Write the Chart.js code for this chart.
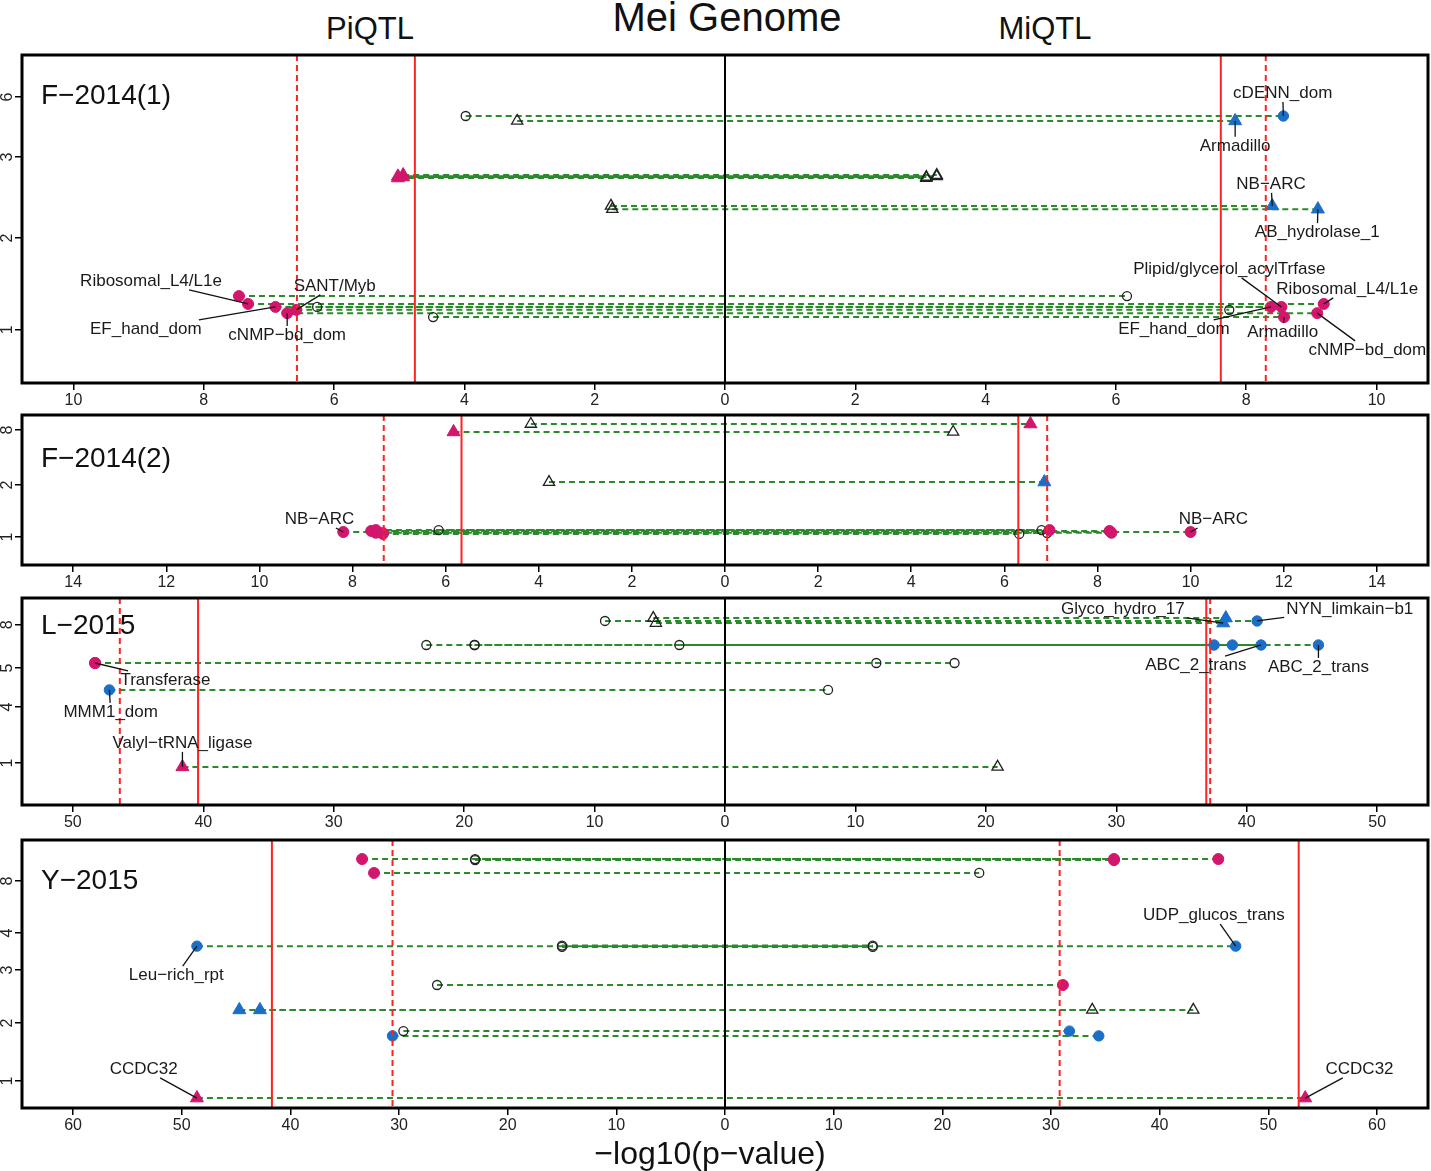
<!DOCTYPE html>
<html lang="en">
<head>
<meta charset="UTF-8">
<title>Mei Genome PiQTL / MiQTL</title>
<script src="https://cdn.jsdelivr.net/npm/chart.js"></script>
<style>
  body { margin: 0; background: #fff; font-family: "Liberation Sans", Arial, sans-serif; }
  #wrap { position: relative; width: 1431px; height: 1171px; }
  #wrap canvas { position: absolute; left: 0; }
  .ttl { position: absolute; transform: translate(-50%, -50%); white-space: nowrap; color: #111; }
</style>
</head>
<body>
<div id="wrap">
  <canvas id="c1"></canvas>
  <canvas id="c2"></canvas>
  <canvas id="c3"></canvas>
  <canvas id="c4"></canvas>
  <div class="ttl" style="left:370px;top:29px;font-size:31px">PiQTL</div>
  <div class="ttl" style="left:727px;top:17px;font-size:40px">Mei Genome</div>
  <div class="ttl" style="left:1045px;top:29px;font-size:31px">MiQTL</div>
  <div class="ttl" style="left:710px;top:1153px;font-size:32px">−log10(p−value)</div>
</div>
<script>
// -log10(p) of each linked pair: Pi = left half, Mi = right half, Row = vertical track
// marks: o open circle, a open triangle, pc/pt pink circle/triangle, bc/bt blue circle/triangle

// F-2014(1)
const f1Pi = [3.98, 3.19, 5.02, 4.94, 5.02, 4.94, 1.75, 1.73, 7.46, 7.32, 6.90, 6.26, 6.58, 6.72, 4.48];
const f1Mi = [8.57, 7.83, 3.09, 3.25, 3.25, 3.09, 8.40, 9.10, 6.17, 9.19, 8.38, 8.54, 7.74, 9.09, 8.58];
const f1Row = [81.4, 79.9, 62.5, 63.4, 63.0, 62.8, 54.0, 53.0, 26.5, 24.1, 23.2, 23.2, 22.3, 21.3, 20.1];
const f1PiMark = ['o','a','pt','pt','pt','pt','a','a','pc','pc','pc','o','pc','pc','o'];
const f1MiMark = ['bc','bt','a','a','a','a','bt','bt','o','pc','pc','pc','o','pc','pc'];
const f1PiThr = [4.76, 6.57];   // solid, dashed
const f1MiThr = [7.61, 8.30];
const f1XTicks = [-10, -8, -6, -4, -2, 0, 2, 4, 6, 8, 10];
const f1YPos = [16.2, 44.2, 68.9, 87.2];
const f1YLab = ['1', '2', '3', '6'];
const f1Labels = [
  ['cDENN_dom', 8.57, 81.4, 8.56, 88.4],
  ['Armadillo', 7.83, 79.9, 7.83, 72.3],
  ['NB−ARC', 8.40, 54.0, 8.38, 60.7],
  ['AB_hydrolase_1', 9.10, 53.0, 9.09, 46.0],
  ['Plipid/glycerol_acylTrfase', 8.54, 23.2, 7.74, 34.8],
  ['Ribosomal_L4/L1e', 9.19, 24.1, 9.55, 28.7],
  ['EF_hand_dom', 8.38, 23.2, 6.89, 16.5],
  ['Armadillo', 8.58, 20.1, 8.56, 15.5],
  ['cNMP−bd_dom', 9.09, 21.3, 9.86, 10.1],
  ['Ribosomal_L4/L1e', -7.32, 24.1, -8.81, 31.1],
  ['SANT/Myb', -6.58, 22.3, -5.99, 29.6],
  ['EF_hand_dom', -6.90, 23.2, -8.89, 16.5],
  ['cNMP−bd_dom', -6.72, 21.3, -6.72, 14.6]
];

// F-2014(2)
const f2Pi = [4.17, 5.83, 3.78, 8.20, 7.60, 7.50, 7.35, 6.15, 7.35, 7.50];
const f2Mi = [6.56, 4.90, 6.86, 10.00, 8.26, 6.97, 6.32, 6.80, 6.92, 8.30];
const f2Row = [94.0, 88.7, 55.3, 22.0, 22.7, 23.3, 20.7, 23.3, 21.3, 21.5];
const f2PiMark = ['a','pt','a','pc','pc','pc','pc','o','pc','pc'];
const f2MiMark = ['pt','a','bt','pc','pc','pc','o','o','o','pc'];
const f2PiThr = [5.66, 7.33];
const f2MiThr = [6.30, 6.92];
const f2XTicks = [-14, -12, -10, -8, -6, -4, -2, 0, 2, 4, 6, 8, 10, 12, 14];
const f2YPos = [18.7, 53.3, 90.0];
const f2YLab = ['1', '2', '8'];
const f2Labels = [
  ['NB−ARC', -8.20, 22.0, -8.71, 30.7],
  ['NB−ARC', 10.00, 22.0, 10.49, 30.7]
];

// L-2015
const l5Pi = [9.2, 5.5, 5.3, 22.9, 19.2, 3.5, 19.2, 48.3, 48.3, 47.2, 41.6];
const l5Mi = [40.8, 38.4, 38.2, 37.5, 38.9, 41.1, 45.5, 17.6, 11.6, 7.9, 20.9];
const l5Row = [88.9, 90.3, 87.9, 77.3, 77.3, 77.3, 77.3, 68.6, 68.6, 55.6, 18.4];
const l5PiMark = ['o','a','a','o','o','o','o','pc','pc','bc','pt'];
const l5MiMark = ['bc','bt','bt','bc','bc','bc','bc','o','o','o','a'];
const l5PiThr = [40.4, 46.4];
const l5MiThr = [36.9, 37.2];
const l5XTicks = [-50, -40, -30, -20, -10, 0, 10, 20, 30, 40, 50];
const l5YPos = [20.3, 47.3, 66.2, 87.0];
const l5YLab = ['1', '4', '5', '8'];
const l5Labels = [
  ['Glyco_hydro_17', 38.2, 87.9, 30.5, 94.7],
  ['NYN_limkain−b1', 40.8, 88.9, 47.9, 94.7],
  ['ABC_2_trans', 41.1, 77.3, 36.1, 67.6],
  ['ABC_2_trans', 45.5, 77.3, 45.5, 66.7],
  ['Transferase', -48.3, 68.6, -42.9, 60.4],
  ['MMM1_dom', -47.2, 55.6, -47.1, 45.0],
  ['Valyl−tRNA_ligase', -41.6, 18.4, -41.6, 30.0]
];

// Y-2015
const y5Pi = [33.4, 23.0, 23.0, 32.3, 48.6, 15.0, 15.0, 26.5, 44.7, 42.8, 29.6, 30.6, 48.6];
const y5Mi = [45.4, 35.8, 35.8, 23.4, 47.0, 13.6, 13.6, 31.1, 43.1, 33.8, 31.7, 34.4, 53.4];
const y5Row = [92.9, 92.9, 92.5, 87.7, 60.4, 60.1, 60.6, 45.9, 36.6, 36.6, 28.7, 26.9, 3.7];
const y5PiMark = ['pc','o','o','pc','bc','o','o','o','bt','bt','o','bc','pt'];
const y5MiMark = ['pc','pc','pc','o','bc','o','o','pc','a','a','bc','bc','pt'];
const y5PiThr = [41.7, 30.6];
const y5MiThr = [52.8, 30.8];
const y5XTicks = [-60, -50, -40, -30, -20, -10, 0, 10, 20, 30, 40, 50, 60];
const y5YPos = [10.1, 31.7, 51.5, 65.3, 84.7];
const y5YLab = ['1', '2', '3', '4', '8'];
const y5Labels = [
  ['Leu−rich_rpt', -48.6, 60.4, -50.5, 49.6],
  ['CCDC32', -48.6, 3.7, -53.5, 14.6],
  ['UDP_glucos_trans', 47.0, 60.4, 45.0, 72.0],
  ['CCDC32', 53.4, 3.7, 58.4, 14.6]
];

const FONT = '"Liberation Sans", Arial, sans-serif';
const GREEN = '#2b8a2b';
const PINK = '#d1166b';
const BLUE = '#1b6fc6';
const RED = '#ff2222';

const markStyle = {
  o:  { pointStyle: 'circle',   radius: 4.5, bg: 'rgba(255,255,255,0)', border: '#222', bw: 1.3, order: 2 },
  a:  { pointStyle: 'triangle', radius: 6.5, bg: 'rgba(255,255,255,0)', border: '#222', bw: 1.3, order: 2 },
  pc: { pointStyle: 'circle',   radius: 5.5, bg: PINK, border: PINK, bw: 1, order: 1 },
  pt: { pointStyle: 'triangle', radius: 7.5, bg: PINK, border: PINK, bw: 1, order: 1 },
  bc: { pointStyle: 'circle',   radius: 5.2, bg: BLUE, border: BLUE, bw: 1, order: 1 },
  bt: { pointStyle: 'triangle', radius: 7.5, bg: BLUE, border: BLUE, bw: 1, order: 1 }
};

function makePanel(id, geom, d) {
  const canvas = document.getElementById(id);
  const axisH = 28;
  canvas.width = 1431;
  canvas.height = geom.bottom - geom.top + 5 + axisH;
  canvas.style.top = (geom.top - 5) + 'px';

  const datasets = [];
  d.pi.forEach((v, i) => {
    datasets.push({
      data: [{ x: -v, y: d.row[i] }, { x: d.mi[i], y: d.row[i] }],
      showLine: true, borderColor: GREEN, borderWidth: 2, borderDash: [6, 4],
      pointRadius: 0, order: 3
    });
  });
  Object.keys(markStyle).forEach(code => {
    const pts = [];
    d.pi.forEach((v, i) => { if (d.piMark[i] === code) pts.push({ x: -v, y: d.row[i] }); });
    d.mi.forEach((v, i) => { if (d.miMark[i] === code) pts.push({ x: v, y: d.row[i] }); });
    if (!pts.length) return;
    const s = markStyle[code];
    datasets.push({
      data: pts, showLine: false, pointStyle: s.pointStyle, pointRadius: s.radius,
      backgroundColor: s.bg, borderColor: s.border, pointBorderWidth: s.bw, order: s.order
    });
  });

  const deco = {
    id: 'deco',
    afterDatasetsDraw(chart) {
      const { ctx, chartArea: a, scales: { x, y } } = chart;
      ctx.save();
      ctx.beginPath();
      ctx.rect(a.left, a.top, a.width, a.height);
      ctx.clip();
      // thresholds
      const vline = (v, color, dash) => {
        const px = x.getPixelForValue(v);
        ctx.beginPath();
        ctx.setLineDash(dash);
        ctx.strokeStyle = color;
        ctx.lineWidth = 2;
        ctx.moveTo(px, a.top);
        ctx.lineTo(px, a.bottom);
        ctx.stroke();
      };
      vline(-d.piThr[0], RED, []);
      vline(-d.piThr[1], RED, [6, 4]);
      vline(d.miThr[0], RED, []);
      vline(d.miThr[1], RED, [6, 4]);
      vline(0, '#000', []);
      ctx.setLineDash([]);

      // gene labels with leader lines
      ctx.font = '17px ' + FONT;
      ctx.fillStyle = '#1a1a1a';
      ctx.textAlign = 'center';
      ctx.textBaseline = 'middle';
      d.labels.forEach(([txt, px, py, tx, ty]) => {
        const P = [x.getPixelForValue(px), y.getPixelForValue(py)];
        const C = [x.getPixelForValue(tx), y.getPixelForValue(ty)];
        const hw = ctx.measureText(txt).width / 2 + 2, hh = 9;
        const dx = P[0] - C[0], dy = P[1] - C[1];
        const t = Math.min(dx ? hw / Math.abs(dx) : Infinity, dy ? hh / Math.abs(dy) : Infinity);
        if (t < 1) {
          ctx.beginPath();
          ctx.strokeStyle = '#111';
          ctx.lineWidth = 1.3;
          ctx.moveTo(C[0] + dx * t, C[1] + dy * t);
          ctx.lineTo(P[0], P[1]);
          ctx.stroke();
        }
        ctx.fillText(txt, C[0], C[1]);
      });

      // panel name
      ctx.font = '28px ' + FONT;
      ctx.textAlign = 'left';
      ctx.fillStyle = '#111';
      ctx.fillText(d.name, a.left + 19, y.getPixelForValue(d.nameY));
      ctx.restore();

      // y tick labels, rotated as in base R
      ctx.save();
      ctx.font = '16px ' + FONT;
      ctx.fillStyle = '#222';
      ctx.textAlign = 'center';
      ctx.textBaseline = 'middle';
      d.yPos.forEach((v, i) => {
        ctx.save();
        ctx.translate(8, y.getPixelForValue(v));
        ctx.rotate(-Math.PI / 2);
        ctx.fillText(d.yLab[i], 0, 0);
        ctx.restore();
      });
      // frame
      ctx.strokeStyle = '#000';
      ctx.lineWidth = 3;
      ctx.strokeRect(a.left, a.top, a.width, a.height);
      ctx.restore();
    }
  };

  new Chart(canvas, {
    type: 'scatter',
    data: { datasets },
    options: {
      responsive: false, animation: false, devicePixelRatio: 1,
      layout: { autoPadding: false, padding: { top: 5, right: 3, left: 0, bottom: 0 } },
      plugins: { legend: { display: false }, tooltip: { enabled: false } },
      scales: {
        x: {
          type: 'linear', min: -d.xMax, max: d.xMax,
          afterBuildTicks: s => { s.ticks = d.xTicks.map(v => ({ value: v })); },
          afterFit: s => { s.height = axisH; s.paddingLeft = 0; s.paddingRight = 0; },
          ticks: { callback: v => String(Math.abs(v)), font: { size: 16, family: FONT }, color: '#222', padding: 1, maxRotation: 0, autoSkip: false },
          grid: { drawOnChartArea: false, drawTicks: true, tickLength: 7, color: '#000', lineWidth: 1.5 },
          border: { display: false }
        },
        y: {
          type: 'linear', min: 0, max: 100,
          afterBuildTicks: s => { s.ticks = d.yPos.map(v => ({ value: v })); },
          afterFit: s => { s.width = 22; s.paddingTop = 0; s.paddingBottom = 0; },
          ticks: { display: false },
          grid: { drawOnChartArea: false, drawTicks: true, tickLength: 7, color: '#000', lineWidth: 1.5 },
          border: { display: false }
        }
      }
    },
    plugins: [deco]
  });
}

makePanel('c1', { top: 55, bottom: 383 }, {
  name: 'F−2014(1)', nameY: 87.5, xMax: 10.79,
  pi: f1Pi, mi: f1Mi, row: f1Row, piMark: f1PiMark, miMark: f1MiMark,
  piThr: f1PiThr, miThr: f1MiThr, xTicks: f1XTicks, yPos: f1YPos, yLab: f1YLab, labels: f1Labels
});
makePanel('c2', { top: 415, bottom: 565 }, {
  name: 'F−2014(2)', nameY: 70.7, xMax: 15.1,
  pi: f2Pi, mi: f2Mi, row: f2Row, piMark: f2PiMark, miMark: f2MiMark,
  piThr: f2PiThr, miThr: f2MiThr, xTicks: f2XTicks, yPos: f2YPos, yLab: f2YLab, labels: f2Labels
});
makePanel('c3', { top: 598, bottom: 805 }, {
  name: 'L−2015', nameY: 86.5, xMax: 53.9,
  pi: l5Pi, mi: l5Mi, row: l5Row, piMark: l5PiMark, miMark: l5MiMark,
  piThr: l5PiThr, miThr: l5MiThr, xTicks: l5XTicks, yPos: l5YPos, yLab: l5YLab, labels: l5Labels
});
makePanel('c4', { top: 840, bottom: 1108 }, {
  name: 'Y−2015', nameY: 84.7, xMax: 64.7,
  pi: y5Pi, mi: y5Mi, row: y5Row, piMark: y5PiMark, miMark: y5MiMark,
  piThr: y5PiThr, miThr: y5MiThr, xTicks: y5XTicks, yPos: y5YPos, yLab: y5YLab, labels: y5Labels
});
</script>
</body>
</html>
